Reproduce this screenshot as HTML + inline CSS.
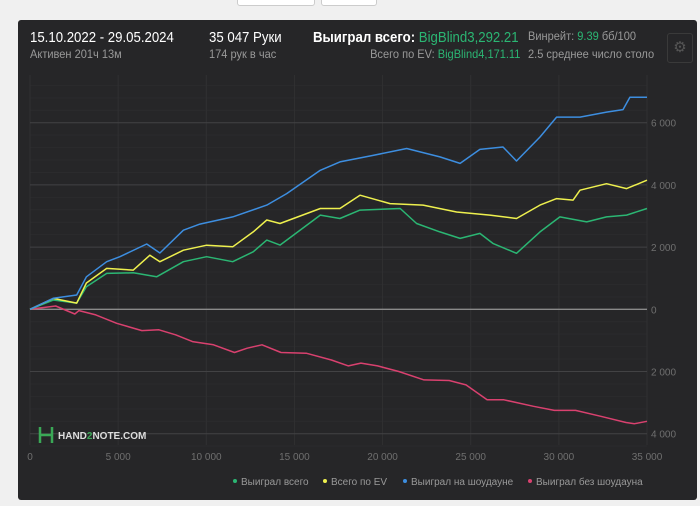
<!DOCTYPE html>
<html><head><meta charset="utf-8">
<style>
body{margin:0;width:700px;height:506px;background:#f0f0f0;font-family:"Liberation Sans","DejaVu Sans",sans-serif;overflow:hidden;position:relative}
.tab{position:absolute;top:-4px;height:8px;background:#fff;border:1px solid #ccc;border-radius:3px}
#panel{position:absolute;left:18px;top:20px;width:679px;height:480px;background:#262628;border-radius:3px}
.t{position:absolute;white-space:nowrap}
.n{display:inline-block;transform:scaleX(0.88);transform-origin:left top}
.s{display:inline-block;transform:scaleX(0.92);transform-origin:left top}
.sr{display:inline-block;transform:scaleX(0.92);transform-origin:right top}
</style></head><body>
<div class="tab" style="left:237px;width:76px"></div>
<div class="tab" style="left:321px;width:54px"></div>
<div id="panel">
 <div class="t" style="left:12px;top:9px;font-size:15px;color:#fff"><span class="n">15.10.2022 - 29.05.2024</span></div>
 <div class="t" style="left:12px;top:27px;font-size:12px;color:#999"><span class="s">Активен 201ч 13м</span></div>
 <div class="t" style="left:191px;top:9px;font-size:15px;color:#fff"><span class="n">35 047 Руки</span></div>
 <div class="t" style="left:191px;top:27px;font-size:12px;color:#999"><span class="s">174 рук в час</span></div>
 <div class="t" style="left:295px;top:9px;font-size:15px;color:#fff"><span class="n"><b>Выиграл всего:</b> <span style="color:#2bb673">BigBlind3,292.21</span></span></div>
 <div class="t" style="right:177px;top:27px;font-size:12px;color:#999"><span class="sr">Всего по EV: <span style="color:#2bb673">BigBlind4,171.11</span></span></div>
 <div class="t" style="left:510px;top:9px;font-size:12px;color:#999"><span class="s">Винрейт: <span style="color:#2bb673">9.39</span> бб/100</span></div>
 <div class="t" style="left:510px;top:27px;font-size:12px;color:#999"><span class="s">2.5 среднее число столо</span></div>
 <div class="t" style="left:649px;top:13px;width:24px;height:28px;border:1px solid #3a3a3a;border-radius:3px;color:#555;font-size:15px;text-align:center;line-height:28px">⚙</div>
</div>
<svg id="chart" width="700" height="506" style="position:absolute;left:0;top:0"></svg>
<script>
const handsBlue=[0,1320,2650,3200,4350,5100,6620,7370,8700,9640,11500,13430,14560,16470,17580,19460,21370,23250,24400,25520,26830,27600,28930,29870,31200,32700,33640,34030,35000];
const valsBlue=[0,353,460,1046,1530,1690,2100,1810,2545,2740,2970,3350,3720,4470,4740,4950,5170,4900,4690,5140,5220,4770,5540,6180,6180,6340,6420,6820,6820];
const handsYellow=[0,1320,2650,3200,4350,5860,6800,7370,8700,10020,11500,12660,13430,14180,16470,17580,18720,20420,22300,24200,26090,27600,28930,29870,30810,31200,32700,33840,35000];
const valsYellow=[0,350,200,845,1315,1260,1740,1530,1900,2060,2010,2490,2870,2760,3240,3240,3670,3400,3350,3130,3030,2920,3350,3560,3510,3830,4040,3880,4150];
const handsGreen=[0,1320,2650,3200,4350,5860,7180,8700,10020,11500,12660,13430,14180,16470,17580,18720,21000,21930,23250,24400,25520,26260,27600,28930,30060,31580,32700,33840,35000];
const valsGreen=[0,300,200,725,1155,1175,1045,1530,1690,1530,1850,2225,2065,3030,2920,3190,3240,2760,2490,2280,2440,2120,1800,2490,2970,2810,2970,3030,3240];
const handsRed=[0,1460,2540,2780,3730,4920,6350,7310,8260,9220,10410,11600,12320,13160,14240,15670,17100,18060,18770,19720,20920,22350,23780,24730,25930,26880,28560,29750,30950,32380,33810,34290,35000];
const valsRed=[0,107,-150,-43,-180,-450,-685,-660,-820,-1040,-1140,-1390,-1250,-1140,-1390,-1410,-1630,-1820,-1730,-1820,-2000,-2270,-2290,-2430,-2910,-2910,-3120,-3250,-3250,-3440,-3640,-3680,-3600];
const xTicks=[0,5000,10000,15000,20000,25000,30000,35000];
const xTickLabels=["0","5 000","10 000","15 000","20 000","25 000","30 000","35 000"];
const yTicks=[-4000,-2000,0,2000,4000,6000];
const yTickLabels=["4 000","2 000","0","2 000","4 000","6 000"];
const legendNames=["Выиграл всего","Всего по EV","Выиграл на шоудауне","Выиграл без шоудауна"];
const legendColors=["#2bb673","#eef04e","#3d8ee0","#d9416f"];

const svg=document.getElementById('chart');const NS='http://www.w3.org/2000/svg';
const X=h=>30+h*(617/35000);
const Y=v=>309.3-v*(62.2/2000);
function mk(t,a){const e=document.createElementNS(NS,t);for(const k in a)e.setAttribute(k,a[k]);svg.appendChild(e);return e;}
for(let v=-4400;v<=7200;v+=400){if(v%2000===0)continue;
 const l=mk('line',{x1:30,x2:647,y1:Y(v),y2:Y(v),stroke:'#2b2b2d','stroke-width':1});
 
 }
xTicks.forEach((t,i)=>{
 const g=mk('line',{x1:X(t),x2:X(t),y1:75,y2:445,stroke:'#303032','stroke-width':1});
 
 
 const tx=mk('text',{x:X(t),y:460,fill:'#6f6f6f','font-size':10,'text-anchor':'middle','font-family':'Liberation Sans, sans-serif'});
 tx.textContent=xTickLabels[i];
 
 
});
yTicks.forEach((t,i)=>{
 const g=mk('line',{x1:30,x2:647,y1:Y(t),y2:Y(t),stroke:t===0?'#8a8a8a':'#424244','stroke-width':t===0?1.3:1});
 
 
 const tx=mk('text',{x:651,y:Y(t)+4,fill:'#6f6f6f','font-size':10,'font-family':'Liberation Sans, sans-serif'});
 tx.textContent=yTickLabels[i];
 
 
});
const lg=mk('path',{d:'M40 427 v16 M52 427 v16 M40 435 h12',stroke:'#3aa856','stroke-width':2.5,fill:'none'});


const lt=mk('text',{x:58,y:439,fill:'#ddd','font-size':10,'font-weight':'bold','font-family':'Liberation Sans, sans-serif'});
lt.innerHTML='HAND<tspan fill="#3aa856">2</tspan>NOTE.COM';


const series=[[handsRed,valsRed,3,'series-lost-no-showdown'],[handsGreen,valsGreen,0,'series-won-total'],[handsYellow,valsYellow,1,'series-ev'],[handsBlue,valsBlue,2,'series-won-showdown']];
series.forEach(([hs,vs,ci,nm])=>{
 const d=hs.map((h,i)=>(i?'L':'M')+X(h).toFixed(1)+' '+Y(vs[i]).toFixed(1)).join(' ');
 const p=mk('path',{d:d,stroke:legendColors[ci],'stroke-width':1.5,fill:'none','stroke-linejoin':'round'});
 
 
});
let lx=[235,325,405,530];
legendNames.forEach((n,i)=>{
 const c=mk('circle',{cx:lx[i],cy:481,r:2,fill:legendColors[i]});
 
 
 const t=mk('text',{x:lx[i]+6,y:485,fill:'#999','font-size':10,'font-family':'Liberation Sans, sans-serif'});
 t.textContent=n;
 
 
});
</script>
</body></html>
